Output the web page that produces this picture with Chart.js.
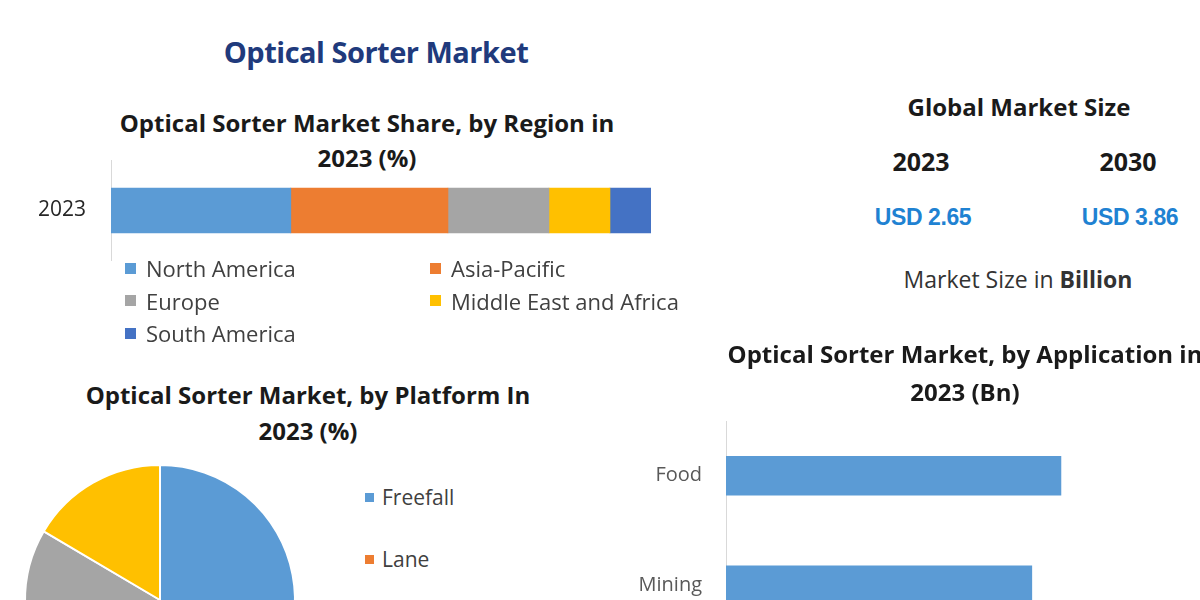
<!DOCTYPE html>
<html>
<head>
<meta charset="utf-8">
<title>Optical Sorter Market</title>
<script src="https://cdn.jsdelivr.net/npm/chart.js@4.4.1/dist/chart.umd.min.js"></script>
<style>
  html, body { margin: 0; padding: 0; }
  body {
    width: 1200px; height: 600px; overflow: hidden; position: relative;
    background: #fff; font-family: "Open Sans", Lato, sans-serif; color: #1a1a1a;
  }
  .abs { position: absolute; }
  .center { text-align: center; white-space: nowrap; }
  #main-title { left: 76px; width: 600px; top: 30px; font-size: 29px; line-height: 44px; font-weight: 700; color: #203a7c; letter-spacing: -0.5px; }
  .sub-title { font-size: 24px; font-weight: 700; line-height: 35px; }
  #region-title { left: 67px; width: 600px; top: 105px; }
  #platform-title { left: 8px; width: 600px; top: 377px; line-height: 36px; }
  #app-title { left: 665px; width: 600px; top: 335px; line-height: 38px; }
  .chart-box { position: absolute; }
  .chart-box canvas { display: block; }
  /* boxes reach past the plot by the tick-label half height + tick padding */
  #region-box { left: 0; top: 123px; width: 700px; height: 175px; }
  #platform-box { left: 0; top: 450px; width: 340px; height: 300px; }
  #app-box { left: 620px; top: 385px; width: 620px; height: 291px; }
  .legend-item { display: flex; align-items: center; white-space: nowrap; color: #404040; }
  .legend-item i { display: inline-block; flex: none; }
  #region-legend { left: 125px; top: 252px; display: grid; grid-template-columns: 305px 280px; }
  #region-legend .legend-item { height: 32.5px; font-size: 22px; }
  #region-legend i { width: 11px; height: 11px; margin-right: 10px; }
  #platform-legend { left: 365px; top: 466px; }
  #platform-legend .legend-item { height: 62px; font-size: 21px; }
  #platform-legend i { width: 9px; height: 9px; margin-right: 8px; }
  .ms-head { font-size: 24px; font-weight: 700; }
  .ms-year { font-size: 25px; font-weight: 700; }
  .ms-value { font-size: 23px; font-weight: 700; color: #1f82d2; letter-spacing: -0.4px; font-family: "Liberation Sans", Arial, sans-serif; }
  .ms-note { font-size: 23px; color: #333; }
</style>
</head>
<body>
<div id="main-title" class="abs center">Optical Sorter Market</div>

<div id="region-title" class="abs center sub-title">Optical Sorter Market Share, by Region in<br>2023 (%)</div>
<div id="region-box" class="chart-box"><canvas id="chart-region"></canvas></div>
<div id="region-legend" class="abs"></div>

<div id="platform-title" class="abs center sub-title">Optical Sorter Market, by Platform In<br>2023 (%)</div>
<div id="platform-box" class="chart-box"><canvas id="chart-platform"></canvas></div>
<div id="platform-legend" class="abs"></div>

<div id="app-title" class="abs center sub-title">Optical Sorter Market, by Application in<br>2023 (Bn)</div>
<div id="app-box" class="chart-box"><canvas id="chart-app"></canvas></div>

<div id="market-size"></div>

<script>
// Region share, 2023 (%)
const regionYears = ["2023"];
const regionNames = ["North America", "Asia-Pacific", "Europe", "Middle East and Africa", "South America"];
const regionShares = [33.3, 29.1, 18.7, 11.3, 7.6];

// Platform share, 2023 (%) -- only the top half of the pie is in frame
const platformNames = ["Freefall", "Lane", "Belt", "Hybrid"];
const platformShares = [44, 22, 17.5, 16.5];

// Application, 2023 (USD Bn)
const applicationNames = ["Food", "Mining"];
const applicationValues = [1.15, 1.05];

// Global market size, USD Bn
const marketYears = ["2023", "2030"];
const marketSizes = [2.65, 3.86];

const PALETTE = ["#5b9bd5", "#ed7d31", "#a5a5a5", "#ffc000", "#4472c4"];
const AXIS_LINE = "#d9d9d9";

Chart.defaults.font.family = '"Open Sans", Lato, sans-serif';
Chart.defaults.color = "#404040";
Chart.defaults.animation = false;
Chart.defaults.plugins.legend.display = false;
Chart.defaults.plugins.tooltip.enabled = false;

function fillLegend(el, names, colors) {
  names.forEach((name, i) => {
    const item = document.createElement("div");
    item.className = "legend-item";
    const sw = document.createElement("i");
    sw.style.background = colors[i];
    item.appendChild(sw);
    item.appendChild(document.createTextNode(name));
    el.appendChild(item);
  });
}

// Region: one stacked 100% bar, segments in palette order.
new Chart(document.getElementById("chart-region"), {
  type: "bar",
  data: {
    labels: regionYears,
    datasets: regionNames.map((name, i) => ({
      label: name,
      data: [regionShares[i]],
      backgroundColor: PALETTE[i],
      barThickness: 45,
    })),
  },
  options: {
    indexAxis: "y",
    responsive: true,
    maintainAspectRatio: false,
    layout: { padding: { left: 0, right: 49, top: 0, bottom: 0 } },
    scales: {
      x: { stacked: true, min: 0, max: 100, display: false },
      y: {
        stacked: true,
        grid: { display: false, drawTicks: false },
        border: { color: AXIS_LINE },
        ticks: { color: "#262626", padding: 25, font: { size: 21 } },
        afterFit: (axis) => { axis.width = 111; },
      },
    },
  },
});
fillLegend(document.getElementById("region-legend"), regionNames, PALETTE);

// Platform: pie, clockwise from 12 o'clock, white slice borders.
new Chart(document.getElementById("chart-platform"), {
  type: "pie",
  data: {
    labels: platformNames,
    datasets: [{
      data: platformShares,
      backgroundColor: PALETTE.slice(0, platformNames.length),
      borderColor: "#fff",
      borderWidth: 2,
    }],
  },
  options: {
    responsive: true,
    maintainAspectRatio: false,
    layout: { padding: { left: 24, right: 44, top: 14, bottom: 14 } },
  },
});
fillLegend(document.getElementById("platform-legend"), platformNames, PALETTE);

// Application: horizontal bars, one hue, no value axis.
new Chart(document.getElementById("chart-app"), {
  type: "bar",
  data: {
    labels: applicationNames,
    datasets: [{ data: applicationValues, backgroundColor: PALETTE[0], barThickness: 39 }],
  },
  options: {
    indexAxis: "y",
    responsive: true,
    maintainAspectRatio: false,
    layout: { padding: { left: 0, right: 48, top: 0, bottom: 0 } },
    scales: {
      x: { min: 0, max: 1.6, display: false },
      y: {
        grid: { display: false, drawTicks: false },
        border: { color: AXIS_LINE },
        ticks: { color: "#595959", padding: 24, font: { size: 20 } },
        afterFit: (axis) => { axis.width = 106; },
      },
    },
  },
});

// Global market size block (plain text)
const ms = document.getElementById("market-size");
function addText(cls, text, cx, cy, h) {
  const d = document.createElement("div");
  d.className = "abs center " + cls;
  d.style.left = (cx - 150) + "px";
  d.style.width = "300px";
  d.style.top = (cy - h / 2) + "px";
  d.style.lineHeight = h + "px";
  d.innerHTML = text;
  ms.appendChild(d);
}
const yearX = [921, 1128];
addText("ms-head", "Global Market Size", 1019, 107, 30);
marketYears.forEach((y, i) => addText("ms-year", y, yearX[i], 161, 30));
marketSizes.forEach((v, i) => addText("ms-value", "USD " + v.toFixed(2), yearX[i] + 2, 217, 30));
addText("ms-note", "Market Size in <b>Billion</b>", 1018, 279, 30);
</script>
</body>
</html>
